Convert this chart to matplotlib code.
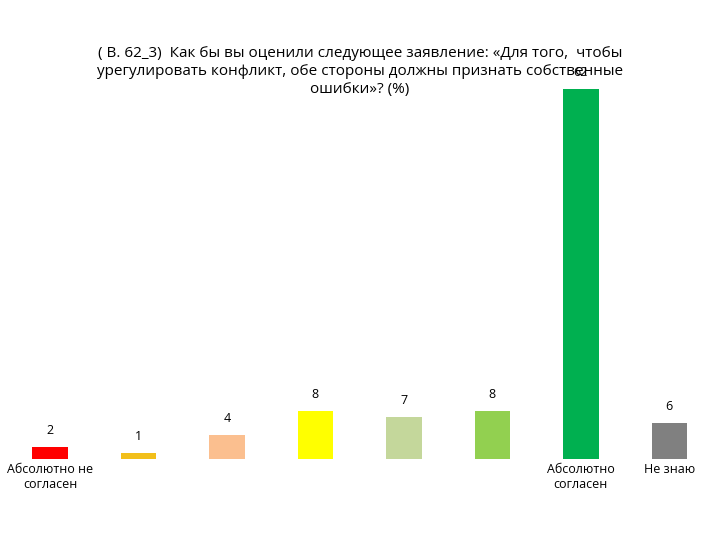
import numpy as np
import matplotlib
matplotlib.use("Agg")
import matplotlib.pyplot as plt

plt.rcParams['font.family'] = ['Open Sans', 'DejaVu Sans']

categories = ["Абсолютно не\nсогласен", "", "", "", "", "", "Абсолютно\nсогласен", "Не знаю"]
values = [2, 1, 4, 8, 7, 8, 62, 6]
colors = ["#ff0000", "#f2bf1a", "#fbbf8f", "#ffff00", "#c4d79b", "#92d050", "#00b050", "#808080"]
title = ("( В. 62_3)  Как бы вы оценили следующее заявление: «Для того,  чтобы\n"
         "урегулировать конфликт, обе стороны должны признать собственные\n"
         "ошибки»? (%)")

fig = plt.figure(figsize=(7.2, 5.4), dpi=100)
ax = fig.add_axes([0.008, 0.15, 0.983, 0.685])
x = np.arange(len(values))
ax.bar(x, values, width=0.4, color=colors)
for xi, v in zip(x, values):
    ax.text(xi, v + 1.7, str(v), ha='center', va='bottom', fontsize=9)
ax.set_xlim(-0.5, len(values) - 0.5)
ax.set_ylim(0, 62)
ax.set_xticks(x)
ax.set_xticklabels(categories, fontsize=9)
ax.tick_params(axis='x', length=0, pad=3)
ax.set_yticks([])
for s in ax.spines.values():
    s.set_visible(False)
fig.text(0.5, 0.915, title, ha='center', va='top', fontsize=11, linespacing=1.3)

plt.savefig("out.png", dpi=100)
